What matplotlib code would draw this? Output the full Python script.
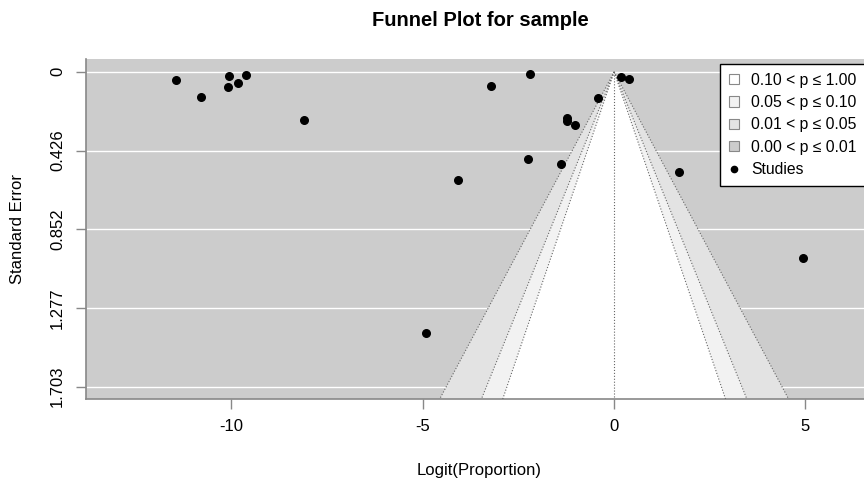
import numpy as np
import matplotlib
matplotlib.use("Agg")
import matplotlib.pyplot as plt
from matplotlib.patches import Patch
from matplotlib.lines import Line2D

plt.rcParams['font.family'] = ['Liberation Sans', 'DejaVu Sans']

# study estimates (logit proportion) and their standard errors
logit_prop = [-11.45, -10.79, -10.07, -10.09, -9.83, -9.63, -8.11,
              -3.21, -2.20, -0.42, -1.22, -1.22, -1.02, 0.19, 0.39,
              -2.25, -1.39, -4.08, 1.70, 4.94, -4.91]
std_err = [0.045, 0.135, 0.023, 0.081, 0.059, 0.018, 0.258,
           0.074, 0.014, 0.141, 0.247, 0.268, 0.288, 0.027, 0.041,
           0.470, 0.497, 0.584, 0.542, 1.006, 1.415]

# contour levels and matching two-sided z values
levels = [0.10, 0.05, 0.01]
z_vals = [1.645, 1.960, 2.576]
shades = ["white", "#f2f2f2", "#e3e3e3"]
back_col = "#cccccc"
legend_labels = ["0.10 < p \u2264 1.00", "0.05 < p \u2264 0.10",
                 "0.01 < p \u2264 0.05", "0.00 < p \u2264 0.01"]

yticks = [0, 0.426, 0.852, 1.277, 1.703]
ytick_labels = ["0", "0.426", "0.852", "1.277", "1.703"]
xticks = [-10, -5, 0, 5]

ymax = 1.771
ymin = -0.068

fig = plt.figure(figsize=(8.64, 4.82), dpi=100)
ax = fig.add_axes([86 / 864, 1 - 399.3 / 482, 788 / 864, 340 / 482])
ax.set_facecolor(back_col)

for yt in yticks:
    ax.axhline(yt, color="white", lw=1.0, zorder=1)

se_line = np.array([0, ymax])
# widest region first so the narrower ones sit on top
for z, col in zip(z_vals[::-1], shades[::-1]):
    ax.fill([0, -z * ymax, z * ymax], [0, ymax, ymax], color=col, zorder=2, lw=0)
for z in z_vals:
    ax.plot(-z * se_line, se_line, ls=":", color="#666666", lw=0.8, zorder=3)
    ax.plot(z * se_line, se_line, ls=":", color="#666666", lw=0.8, zorder=3)
ax.plot([0, 0], [0, ymax], ls=":", color="#666666", lw=0.8, zorder=3)

ax.scatter(logit_prop, std_err, s=30, color="black", zorder=4)

ax.set_xlim(-13.80, 6.79)
ax.set_ylim(ymax, ymin)
ax.set_xticks(xticks)
ax.set_xticklabels([str(v) for v in xticks])
ax.set_yticks(yticks)
ax.set_yticklabels(ytick_labels, rotation=90, va="center")

for s in ["top", "right"]:
    ax.spines[s].set_visible(False)
for s in ["left", "bottom"]:
    ax.spines[s].set_color("#888888")
    ax.spines[s].set_linewidth(1.2)
ax.tick_params(axis="both", length=7.2, width=1, color="#888888", labelsize=12)
ax.tick_params(axis="x", pad=7)
ax.tick_params(axis="y", pad=8)

handles = [Patch(facecolor=c, edgecolor="#888888", lw=0.8) for c in shades + [back_col]]
handles.append(Line2D([], [], marker="o", color="black", ls="none", markersize=4.5))
leg = ax.legend(handles, legend_labels + ["Studies"], loc="upper right",
                bbox_to_anchor=(865 / 864, 1 - 64 / 482), bbox_transform=fig.transFigure,
                borderaxespad=0, fontsize=11.3, frameon=True, fancybox=False, framealpha=1,
                edgecolor="black", handlelength=0.65, handleheight=0.65,
                handletextpad=0.75, labelspacing=0.47, borderpad=0.55)
leg.get_frame().set_linewidth(1.0)
leg.set_zorder(5)

fig.text(480 / 864, 1 - 20 / 482, "Funnel Plot for sample", ha="center", va="center",
         fontsize=14.5, fontweight="bold")
fig.text(479 / 864, 1 - 470 / 482, "Logit(Proportion)", ha="center", va="center", fontsize=12)
fig.text(18 / 864, 1 - 229 / 482, "Standard Error", ha="center", va="center",
         rotation=90, fontsize=12)

fig.savefig("out.png", dpi=100)
